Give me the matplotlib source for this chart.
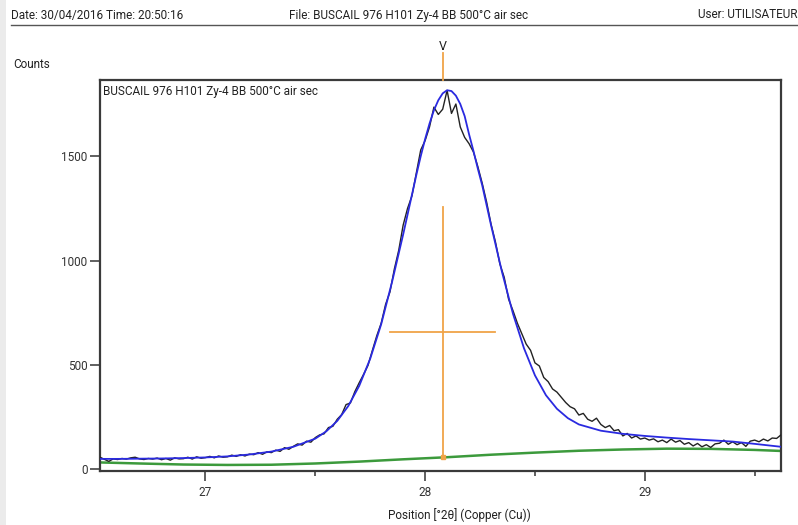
import numpy as np
import matplotlib
matplotlib.use("Agg")
import matplotlib.pyplot as plt
from matplotlib.transforms import blended_transform_factory
from matplotlib.patches import Rectangle

plt.rcParams['font.family'] = ['Roboto', 'DejaVu Sans']

# Step scan: 2theta from 26.52 to 29.62 in 0.02 degree steps
two_theta = np.round(26.52 + 0.02 * np.arange(156), 2)

# Measured counts
counts = [
    58, 48, 38, 50, 47, 52, 49, 55, 58, 50,
    47, 52, 49, 54, 46, 52, 44, 55, 50, 51,
    58, 49, 60, 53, 56, 62, 55, 64, 58, 60,
    68, 62, 70, 64, 73, 70, 80, 72, 84, 80,
    92, 86, 104, 96, 110, 122, 116, 135, 130, 152,
    165, 170, 200, 206, 240, 262, 310, 318, 372, 415,
    455, 498, 570, 640, 700, 790, 850, 960, 1050, 1170,
    1250, 1310, 1420, 1530, 1575, 1640, 1735, 1700, 1725, 1815,
    1705, 1750, 1640, 1590, 1560, 1520, 1450, 1370, 1280, 1175,
    1090, 985, 920, 815, 760, 700, 650, 600, 570, 510,
    495, 440, 420, 385, 370, 345, 320, 300, 290, 260,
    268, 240, 230, 245, 215, 200, 210, 185, 190, 160,
    172, 150, 160, 145, 150, 140, 146, 132, 140, 128,
    145, 130, 138, 120, 128, 112, 124, 108, 118, 105,
    122, 125, 140, 120, 132, 118, 128, 110, 135, 140,
    132, 145, 136, 150, 148, 165,
]

# Fitted profile (peak + background)
fit_theta = [
    26.52, 26.6, 26.7, 26.8, 26.9, 27.0, 27.1, 27.2, 27.3, 27.4,
    27.5, 27.55, 27.6, 27.65, 27.7, 27.75, 27.8, 27.85, 27.9, 27.92,
    27.94, 27.96, 27.98, 28.0, 28.02, 28.04, 28.06, 28.08, 28.1, 28.12,
    28.14, 28.16, 28.18, 28.2, 28.22, 28.24, 28.26, 28.28, 28.3, 28.35,
    28.4, 28.45, 28.5, 28.55, 28.6, 28.65, 28.7, 28.8, 28.9, 29.0,
    29.1, 29.2, 29.3, 29.4, 29.5, 29.62,
]
fit_counts = [
    50, 50, 51, 52, 54, 57, 62, 71, 85, 108,
    147, 182, 232, 303, 400, 530, 695, 900, 1125, 1220,
    1315, 1410, 1500, 1582, 1656, 1720, 1768, 1801, 1816, 1812,
    1790, 1750, 1692, 1605, 1525, 1440, 1360, 1265, 1170, 945,
    745, 580, 450, 355, 290, 245, 215, 185, 170, 160,
    152, 145, 139, 133, 122, 108,
]

# Background curve
bg_theta = [26.52, 26.7, 26.9, 27.1, 27.3, 27.5, 27.7, 27.9, 28.1,
            28.3, 28.5, 28.7, 28.9, 29.1, 29.3, 29.5, 29.62]
bg_counts = [33, 28, 23, 21, 22, 28, 37, 48, 58,
             70, 80, 89, 95, 99, 98, 93, 88]

# Peak marker
peak_pos = 28.08
peak_bar_top = 1258
peak_bar_base = 57
width_level = 657
width_left = 27.842
width_right = 28.317

sample_name = "BUSCAIL 976 H101 Zy-4 BB 500°C air sec"

W, H = 798, 525
fig = plt.figure(figsize=(W / 100, H / 100), dpi=100)
fig.patch.set_facecolor('white')

# grey strip along the left edge
fig.patches.append(Rectangle((0, 0), 6 / W, 1, transform=fig.transFigure,
                             facecolor='#ebebeb', edgecolor='none', zorder=0))

ax = fig.add_axes([100 / W, 54 / H, 681 / W, 391 / H])
ax.set_xlim(26.52, 29.62)
ax.set_ylim(-8, 1865)

ax.plot(bg_theta, bg_counts, color='#3c9a3c', lw=1.8, zorder=2)
ax.plot(two_theta, counts, color='#222222', lw=1.0, zorder=3)
ax.plot(fit_theta, fit_counts, color='#2a2ae0', lw=1.3, zorder=4)

orange = '#f0a448'
ax.plot([peak_pos, peak_pos], [peak_bar_base, peak_bar_top], color=orange, lw=1.3, zorder=5)
ax.plot([width_left, width_right], [width_level, width_level], color=orange, lw=1.3, zorder=5)
ax.plot([peak_pos], [peak_bar_base], marker='s', ms=2.5, color=orange, zorder=5)
btr = blended_transform_factory(ax.transData, ax.transAxes)
ax.plot([peak_pos, peak_pos], [1.0, 1.0 + 27 / 391], color=orange, lw=1.3,
        transform=btr, clip_on=False, zorder=5)
ax.text(peak_pos, 1.0 + 33 / 391, 'V', transform=btr, ha='center', va='center',
        fontsize=9, color='#222222')

ax.set_xticks([27, 28, 29])
ax.set_xticks([27.5, 28.5, 29.5], minor=True)
ax.set_yticks([0, 500, 1000, 1500])
ax.tick_params(axis='both', which='major', direction='out', length=7, width=1.2,
               colors='#444444', labelcolor='#333333', labelsize=8.5)
ax.tick_params(axis='x', which='major', pad=4)
ax.tick_params(axis='y', which='major', pad=2)
ax.tick_params(axis='x', which='minor', direction='out', length=3.5, width=1.2, colors='#444444')
ax.tick_params(axis='y', which='minor', left=False)

for side in ['left', 'right', 'top', 'bottom']:
    ax.spines[side].set_linewidth(1.6)
    ax.spines[side].set_color('#3a3a3a')

ax.text(0.005, 0.987, sample_name, transform=ax.transAxes, ha='left', va='top',
        fontsize=8.5, color='#222222')

# header
fig.text(11 / W, 1 - 15 / H, 'Date: 30/04/2016 Time: 20:50:16', ha='left', va='center',
         fontsize=8.5, color='#222222')
fig.text(289 / W, 1 - 15 / H, 'File: ' + sample_name, ha='left', va='center',
         fontsize=8.5, color='#222222')
fig.text(797 / W, 1 - 15 / H, 'User: UTILISATEUR', ha='right', va='center',
         fontsize=8.5, color='#222222')
fig.add_artist(plt.Line2D([11 / W, 1], [1 - 24.5 / H, 1 - 24.5 / H],
                          transform=fig.transFigure, color='#555555', lw=1.0))

fig.text(13 / W, 1 - 64 / H, 'Counts', ha='left', va='center', fontsize=8.5, color='#222222')
fig.text(459 / W, 1 - 515 / H, 'Position [°2θ] (Copper (Cu))', ha='center', va='center',
         fontsize=8.5, color='#222222')

fig.savefig('out.png', dpi=100)
